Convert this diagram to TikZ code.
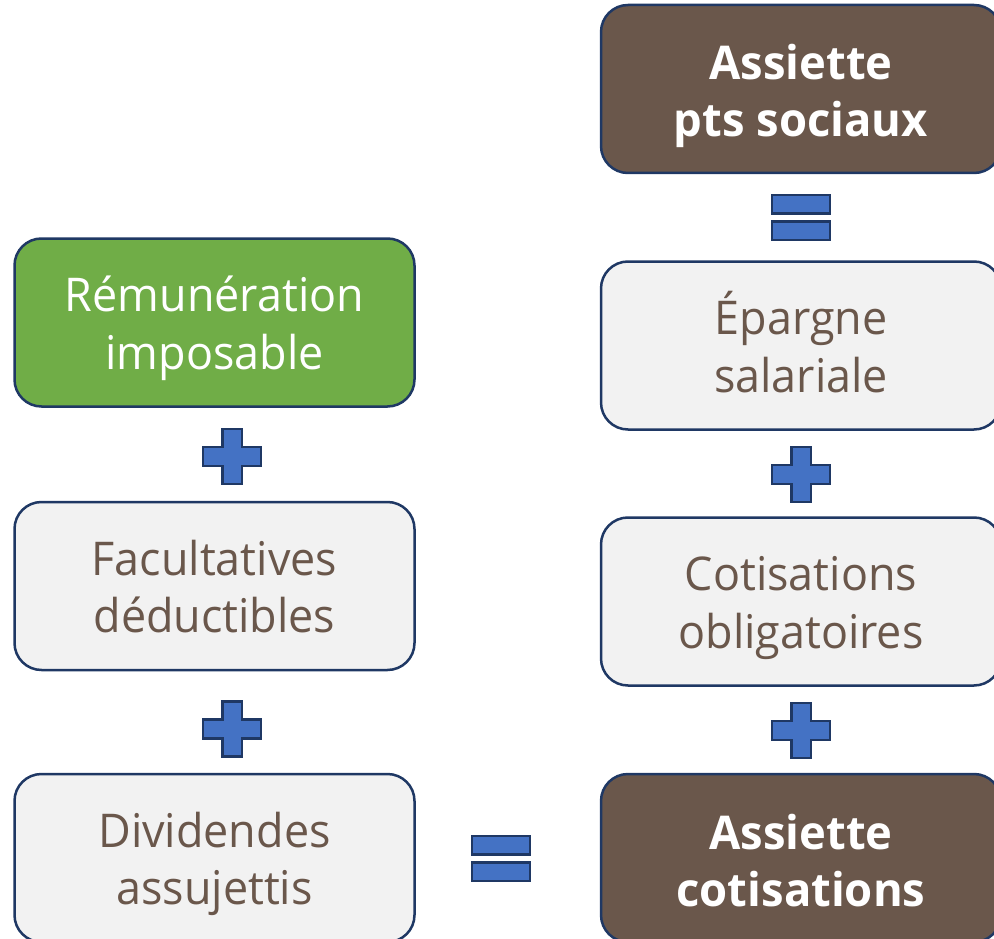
\documentclass[tikz,border=0pt]{standalone}
\usepackage{fontspec}
\setmainfont{Open Sans}[FakeStretch=0.965]
\newfontfamily\headfont{Open Sans}[FakeStretch=0.976]
\newcommand\myTop{\rule{0pt}{48pt}}
\newcommand\myBot{\rule[-15pt]{0pt}{15pt}}
\definecolor{navy}{HTML}{1F3864}
\definecolor{leaf}{HTML}{70AD47}
\definecolor{pale}{HTML}{F2F2F2}
\definecolor{earth}{HTML}{6A574B}
\definecolor{symblue}{HTML}{4472C4}
\tikzset{
  box/.style={draw=navy, line width=2.5pt, rounded corners=27pt, minimum width=400pt, minimum height=168pt, inner sep=0pt},
  greenbox/.style={box, fill=leaf},
  palebox/.style={box, fill=pale},
  brownbox/.style={box, fill=earth},
  regtext/.style={align=center, inner sep=0pt, font=\fontsize{46.5}{57.5}\selectfont},
  whitetext/.style={regtext, text=white},
  earthtext/.style={regtext, text=earth},
  boldtext/.style={align=center, inner sep=0pt, text=white, font=\headfont\bfseries\fontsize{46.5}{57}\selectfont},
  sym/.style={draw=navy, line width=2.5pt, fill=symblue},
  plussign/.pic={\path[sym] (-9.75,-27.5) -- (9.75,-27.5) -- (9.75,-9.5) -- (29,-9.5) -- (29,9.5) -- (9.75,9.5) -- (9.75,27.5) -- (-9.75,27.5) -- (-9.75,9.5) -- (-29,9.5) -- (-29,-9.5) -- (-9.75,-9.5) -- cycle;},
  equalsign/.pic={\path[sym] (-29,-22.5) rectangle (29,-4); \path[sym] (-29,4) rectangle (29,22.5);}
}
\begin{document}
\begin{tikzpicture}[x=1pt,y=-1pt]
\useasboundingbox (0,0) rectangle (994,939);
\clip (0,0) rectangle (994,939);
% left column
\node[greenbox] (rem) at (214.5,322.5) {};
\node[whitetext] (remt) at ([yshift=-1.25pt]rem.center) {\myTop Rémunération\\imposable\myBot};
\node[palebox] (fac) at (214.5,586) {};
\node[earthtext] (fact) at ([yshift=-1.25pt]fac.center) {\myTop Facultatives\\déductibles\myBot};
\node[palebox] (div) at (214.5,858) {};
\node[earthtext] (divt) at ([yshift=-1.25pt]div.center) {\myTop Dividendes\\assujettis\myBot};
% right column
\node[brownbox] (aps) at (801,89) {};
\node[boldtext] (apst) at ([yshift=-3pt]aps.center) {\myTop Assiette\\pts sociaux\myBot};
\node[palebox] (epa) at (801,345.5) {};
\node[earthtext] (epat) at ([yshift=-1.25pt]epa.center) {\myTop Épargne\\salariale\myBot};
\node[palebox] (cot) at (801,601.5) {};
\node[earthtext] (cott) at ([yshift=-1.25pt]cot.center) {\myTop Cotisations\\obligatoires\myBot};
\node[brownbox] (aco) at (801,858) {};
\node[boldtext] (acot) at ([yshift=-3pt]aco.center) {\myTop Assiette\\cotisations\myBot};
% operators
\pic at (232,456.5) {plussign};
\pic at (232,729) {plussign};
\pic at (801,474.5) {plussign};
\pic at (801,730.5) {plussign};
\pic at (801,217.5) {equalsign};
\pic at (501,858.5) {equalsign};
\end{tikzpicture}
\end{document}
